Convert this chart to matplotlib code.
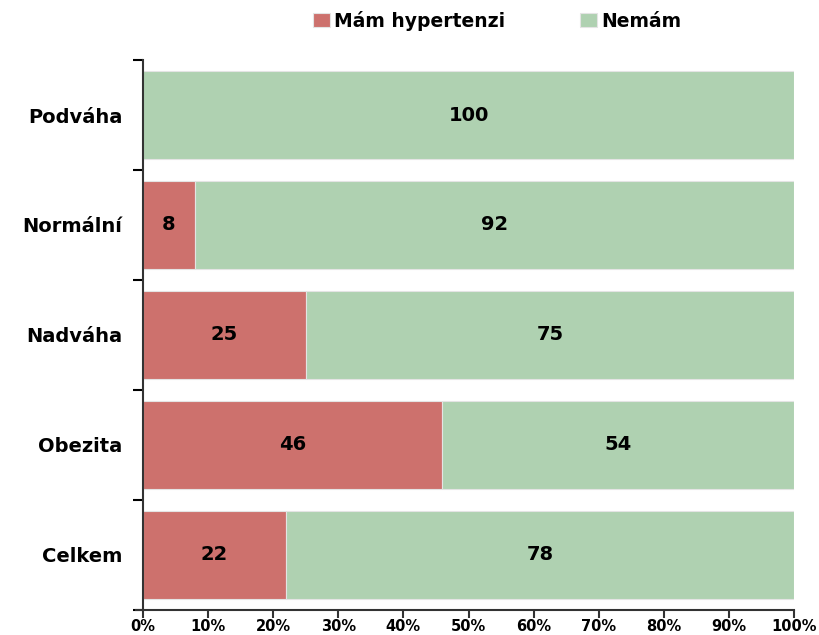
import numpy as np
import matplotlib.pyplot as plt
from matplotlib.ticker import FixedLocator, PercentFormatter

categories = ['Podváha', 'Normální', 'Nadváha', 'Obezita', 'Celkem']
mam = [0, 8, 25, 46, 22]
nemam = [100, 92, 75, 54, 78]
series_names = ['Mám hypertenzi', 'Nemám']
colors = ['#cd716d', '#afd1b1']

plt.rcParams['font.family'] = 'DejaVu Sans'
plt.rcParams['font.weight'] = 'bold'

fig = plt.figure(figsize=(8.19, 6.35), dpi=100)
ax = fig.add_axes([0.1746, 0.0394, 0.7949, 0.8661])

y = np.arange(len(categories))
mam = np.array(mam)
nemam = np.array(nemam)
b1 = ax.barh(y, mam, height=0.8, color=colors[0], edgecolor='#e4e4e4', linewidth=0.8,
             label=series_names[0])
b2 = ax.barh(y, nemam, left=mam, height=0.8, color=colors[1], edgecolor='#e4e4e4',
             linewidth=0.8, label=series_names[1])

for i in range(len(categories)):
    if mam[i] > 0:
        ax.text(mam[i] / 2, y[i], str(mam[i]), ha='center', va='center',
                fontsize=14, fontweight='bold')
    ax.text(mam[i] + nemam[i] / 2, y[i], str(nemam[i]), ha='center', va='center',
            fontsize=14, fontweight='bold')

ax.set_xlim(0, 100)
ax.set_ylim(len(categories) - 0.5, -0.5)
ax.xaxis.set_major_locator(FixedLocator(np.arange(0, 101, 10)))
ax.xaxis.set_major_formatter(PercentFormatter(decimals=0))
ax.set_yticks(y)
ax.set_yticklabels(categories, fontsize=14, fontweight='bold')
ax.yaxis.set_minor_locator(FixedLocator(np.arange(-0.5, len(categories), 1)))
ax.tick_params(axis='y', which='major', length=0, pad=15)
ax.tick_params(axis='y', which='minor', length=7, width=1.5, direction='out')
ax.tick_params(axis='x', length=6, width=1.5, direction='out', labelsize=10.5, pad=0.5)
for lab in ax.get_xticklabels():
    lab.set_fontweight('bold')

for s in ['top', 'right']:
    ax.spines[s].set_visible(False)
for s in ['left', 'bottom']:
    ax.spines[s].set_linewidth(1.5)
    ax.spines[s].set_color('#333333')
ax.tick_params(colors='#333333', labelcolor='black')

# stub of the value axis running a little left of zero
ax.plot([-1.2, 0], [len(categories) - 0.5] * 2, color='#333333', lw=1.5,
        clip_on=False, solid_capstyle='butt')

fig.legend(handles=[b1, b2], loc='upper center', bbox_to_anchor=(0.607, 1.01), ncol=2,
           frameon=False, fontsize=13.5, handlelength=0.9, handleheight=0.7,
           handletextpad=0.2, columnspacing=4.0)

fig.savefig('out.png', dpi=100)
